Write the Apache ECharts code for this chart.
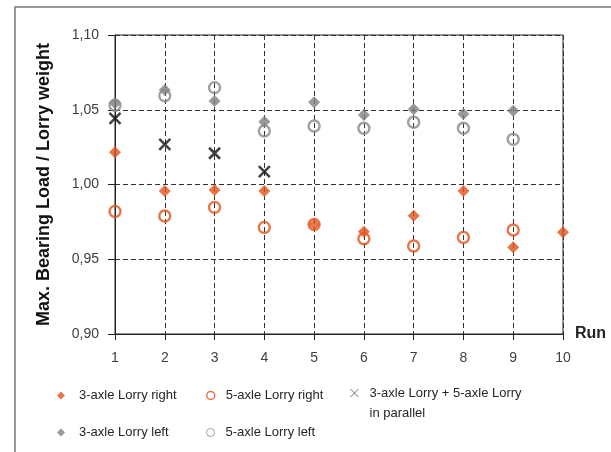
<!DOCTYPE html>
<html>
<head>
<meta charset="utf-8">
<script src="https://cdn.jsdelivr.net/npm/echarts@6/dist/echarts.min.js"></script>
<style>
html,body{margin:0;padding:0;background:#fff;}
#chart{width:611px;height:452px;}
</style>
</head>
<body>
<div id="chart"></div>
<script>
var runs3 = [1, 2, 3, 4, 5, 6, 7, 8, 9, 10];
var runs5 = [1, 2, 3, 4, 5, 6, 7, 8, 9];
var runsPar = [1, 2, 3, 4];
var axle3Right = [1.0215, 0.9956, 0.9963, 0.9956, 0.9733, 0.9684, 0.9791, 0.9956, 0.958, 0.968];
var axle5Right = [0.982, 0.9789, 0.9847, 0.9713, 0.9733, 0.9637, 0.9589, 0.9646, 0.9696];
var parallel = [1.0443, 1.0269, 1.0209, 1.0086];
var axle3Left = [1.0543, 1.0632, 1.0558, 1.042, 1.055, 1.0465, 1.0503, 1.0471, 1.0494];
var axle5Left = [1.053, 1.0594, 1.0648, 1.0358, 1.0391, 1.0376, 1.0416, 1.0376, 1.0302];
var seriesNames = ['3-axle Lorry right', '5-axle Lorry right', '3-axle Lorry + 5-axle Lorry', '3-axle Lorry left', '5-axle Lorry left'];
var parallelSecondLine = 'in parallel';
var yTitle = 'Max. Bearing Load / Lorry weight';
var xTitle = 'Run';

function pairs(xs, ys) { return ys.map(function (v, i) { return [xs[i], v]; }); }

var FONT = 'Liberation Sans';
var ORANGE = '#E2531D';
var GRAY = '#808080';
var CROSS = 'path://M0,0L10,10M10,0L0,10';

var chart = echarts.init(document.getElementById('chart'), null, {renderer: 'canvas'});

function legendCfg(name, left, top, padLeft, extra) {
  var cfg = {
    data: [name], left: left, top: top, padding: 0, orient: 'horizontal',
    itemWidth: 8, itemHeight: 8, selectedMode: false,
    textStyle: {fontFamily: FONT, fontSize: 13, color: '#262626', lineHeight: 8, padding: [0, 0, 0, padLeft]}
  };
  if (extra) { for (var k in extra) cfg[k] = extra[k]; }
  return cfg;
}

var option = {
  backgroundColor: '#fff',
  animation: false,
  textStyle: {fontFamily: FONT},
  grid: {left: 115, top: 35, right: 48, bottom: 118, show: true, borderColor: '#222', borderWidth: 1},
  graphic: [{
    type: 'rect', shape: {x: 15, y: 7, width: 700, height: 500}, silent: true, z: -10,
    style: {fill: 'none', stroke: '#7a7a7a', lineWidth: 1.5}
  }],
  xAxis: {
    type: 'value', min: 1, max: 10, interval: 1,
    name: xTitle, nameLocation: 'end', nameGap: 12,
    nameTextStyle: {fontFamily: FONT, fontSize: 16, fontWeight: 'bold', color: '#222', padding: [0, 0, 6, 0]},
    axisLine: {onZero: false, lineStyle: {color: '#222', width: 1}},
    axisTick: {show: true, length: 6, lineStyle: {color: '#222'}},
    axisLabel: {fontFamily: FONT, fontSize: 14, color: '#404040', margin: 17},
    splitLine: {show: true, lineStyle: {color: '#333', type: [5, 3], width: 1}}
  },
  yAxis: {
    type: 'value', min: 0.9, max: 1.1, interval: 0.05,
    name: yTitle, nameLocation: 'middle', nameGap: 62,
    nameTextStyle: {fontFamily: FONT, fontSize: 18, fontWeight: 'bold', color: '#111'},
    axisLine: {show: true, lineStyle: {color: '#222', width: 1}},
    axisTick: {show: true, length: 7, lineStyle: {color: '#222'}},
    axisLabel: {fontFamily: FONT, fontSize: 14, color: '#404040', margin: 16,
      formatter: function (v) { return v.toFixed(2).replace('.', ','); }},
    splitLine: {show: true, lineStyle: {color: '#333', type: [5, 3], width: 1}}
  },
  legend: [
    legendCfg(seriesNames[0], 57, 389, 9),
    legendCfg(seriesNames[1], 206, 389, 6, {itemStyle: {borderWidth: 1.5}}),
    legendCfg(seriesNames[2], 350, 363, 6, {
      itemStyle: {borderColor: '#555', borderWidth: 1},
      formatter: function (n) { return ' \n' + n + '\n' + parallelSecondLine; },
      textStyle: {fontFamily: FONT, fontSize: 13, color: '#262626', lineHeight: 20, padding: [0, 0, 0, 6]}
    }),
    legendCfg(seriesNames[3], 57, 426, 9),
    legendCfg(seriesNames[4], 206, 426, 6, {itemStyle: {borderWidth: 1}})
  ],
  series: [
    {name: seriesNames[0], type: 'scatter', data: pairs(runs3, axle3Right), symbol: 'diamond', symbolSize: 12,
      itemStyle: {color: ORANGE}, z: 3},
    {name: seriesNames[1], type: 'scatter', data: pairs(runs5, axle5Right), symbol: 'circle', symbolSize: 11,
      itemStyle: {color: 'rgba(255,255,255,0)', borderColor: ORANGE, borderWidth: 2.4}, z: 4},
    {name: seriesNames[2], type: 'scatter', data: pairs(runsPar, parallel), symbol: CROSS, symbolSize: 11,
      itemStyle: {color: 'rgba(0,0,0,0)', borderColor: '#111', borderWidth: 2.5}, z: 5},
    {name: seriesNames[3], type: 'scatter', data: pairs(runs5, axle3Left), symbol: 'diamond', symbolSize: 12,
      itemStyle: {color: GRAY}, z: 3},
    {name: seriesNames[4], type: 'scatter', data: pairs(runs5, axle5Left), symbol: 'circle', symbolSize: 11,
      itemStyle: {color: 'rgba(255,255,255,0)', borderColor: '#888', borderWidth: 2.4}, z: 4}
  ]
};
chart.setOption(option);
</script>
</body>
</html>
